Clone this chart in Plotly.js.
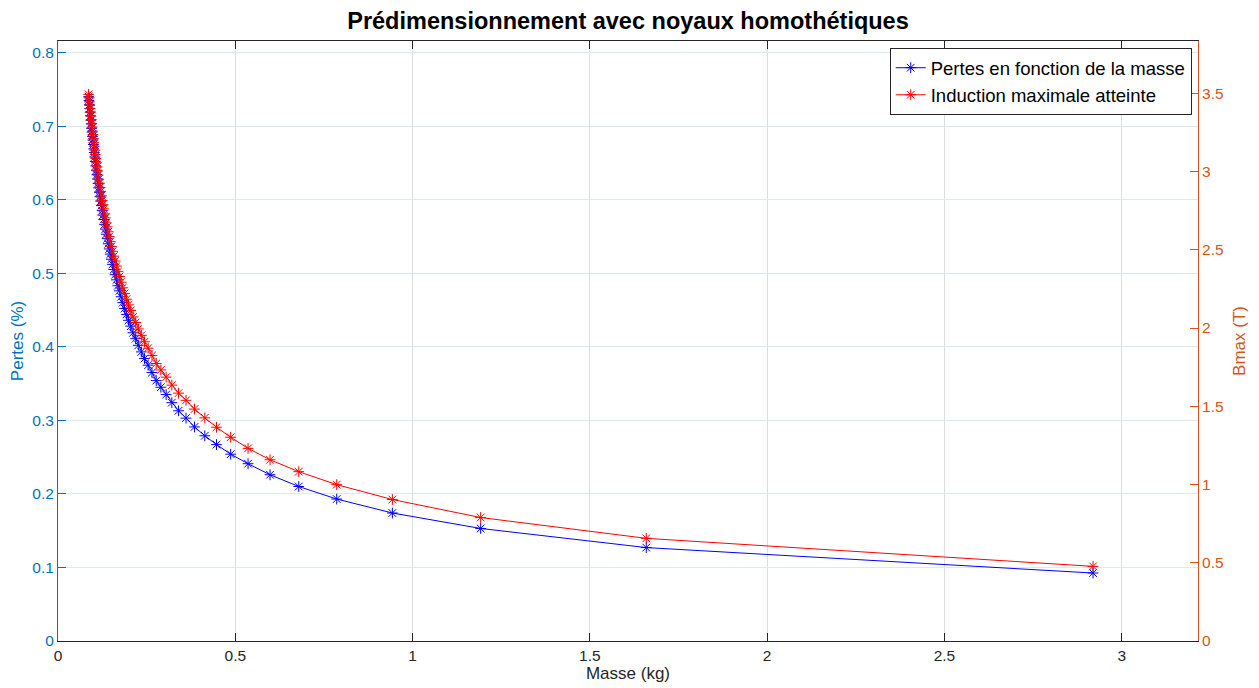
<!DOCTYPE html>
<html>
<head>
<meta charset="utf-8">
<script src="https://cdn.plot.ly/plotly-3.0.1.min.js"></script>
<style>
  html, body { margin: 0; padding: 0; background: #ffffff; }
  #chart { width: 1259px; height: 688px; }
</style>
</head>
<body>
<div id="chart"></div>
<script>
// Masse (kg)
const masse = [
  0.0865, 0.0874, 0.0884, 0.0894, 0.0904, 0.0915, 0.0926, 0.0937, 0.0948, 0.0960,
  0.0972, 0.0984, 0.0997, 0.1010, 0.1024, 0.1038, 0.1052, 0.1067, 0.1082, 0.1098,
  0.1114, 0.1131, 0.1149, 0.1167, 0.1185, 0.1204, 0.1224, 0.1245, 0.1266, 0.1289,
  0.1312, 0.1336, 0.1361, 0.1388, 0.1415, 0.1444, 0.1473, 0.1505, 0.1538, 0.1573,
  0.1610, 0.1649, 0.1689, 0.1732, 0.1778, 0.1826, 0.1877, 0.1932, 0.1989, 0.2051,
  0.2117, 0.219, 0.2265, 0.235, 0.244, 0.254, 0.265, 0.277, 0.290, 0.305,
  0.321, 0.340, 0.361, 0.385, 0.414, 0.447, 0.487, 0.536, 0.598, 0.679,
  0.786, 0.943, 1.192, 1.659, 2.919
];
// Pertes (%)
const pertes = [
  0.740, 0.735, 0.729, 0.724, 0.719, 0.714, 0.708, 0.703, 0.697, 0.692,
  0.686, 0.681, 0.675, 0.669, 0.664, 0.658, 0.652, 0.646, 0.640, 0.634,
  0.628, 0.622, 0.616, 0.610, 0.604, 0.598, 0.592, 0.585, 0.579, 0.573,
  0.566, 0.560, 0.553, 0.547, 0.540, 0.533, 0.526, 0.519, 0.512, 0.505,
  0.498, 0.491, 0.483, 0.476, 0.468, 0.460, 0.452, 0.444, 0.436, 0.428,
  0.419, 0.411, 0.402, 0.393, 0.384, 0.375, 0.365, 0.354, 0.345, 0.335,
  0.324, 0.313, 0.303, 0.291, 0.279, 0.267, 0.254, 0.241, 0.226, 0.210,
  0.193, 0.174, 0.153, 0.127, 0.0924
];
// Bmax (T)
const bmax = [
  3.493, 3.471, 3.445, 3.423, 3.402, 3.380, 3.354, 3.332, 3.306, 3.284,
  3.258, 3.236, 3.210, 3.184, 3.162, 3.136, 3.109, 3.083, 3.056, 3.030,
  3.004, 2.977, 2.951, 2.925, 2.898, 2.872, 2.845, 2.814, 2.788, 2.761,
  2.730, 2.704, 2.672, 2.646, 2.615, 2.584, 2.552, 2.521, 2.490, 2.459,
  2.428, 2.396, 2.360, 2.329, 2.293, 2.257, 2.221, 2.184, 2.148, 2.112,
  2.071, 2.035, 1.994, 1.953, 1.912, 1.871, 1.824, 1.773, 1.732, 1.686,
  1.635, 1.584, 1.538, 1.482, 1.426, 1.366, 1.302, 1.231, 1.158, 1.082,
  0.999, 0.904, 0.789, 0.656, 0.477
];

const xTicks = [0, 0.5, 1, 1.5, 2, 2.5, 3];
const yLeftTicks = [0, 0.1, 0.2, 0.3, 0.4, 0.5, 0.6, 0.7, 0.8];
const yRightTicks = [0, 0.5, 1, 1.5, 2, 2.5, 3, 3.5];

const FONT = '"Liberation Sans", Arial, Helvetica, sans-serif';
const AX = '#262626';
const BLUE_AX = '#0072BD';
const ORANGE_AX = '#D95319';

const traces = [
  {
    x: masse, y: pertes, yaxis: 'y',
    type: 'scatter', mode: 'lines+markers',
    name: 'Pertes en fonction de la masse',
    line: { color: '#0000FF', width: 1 },
    marker: { symbol: 'asterisk-open', size: 9, color: '#0000FF', line: { color: '#0000FF', width: 1 } }
  },
  {
    x: masse, y: bmax, yaxis: 'y2',
    type: 'scatter', mode: 'lines+markers',
    name: 'Induction maximale atteinte',
    line: { color: '#FF0000', width: 1 },
    marker: { symbol: 'asterisk-open', size: 9, color: '#FF0000', line: { color: '#FF0000', width: 1 } }
  }
];

const layout = {
  width: 1259, height: 688,
  paper_bgcolor: '#ffffff', plot_bgcolor: '#ffffff',
  margin: { l: 58, r: 61, t: 41, b: 47 },
  font: { family: FONT, size: 15, color: AX },
  title: {
    text: '<b>Prédimensionnement avec noyaux homothétiques</b>',
    font: { family: FONT, size: 23.5, color: '#000000' },
    x: 0.5, xanchor: 'center', xref: 'paper',
    y: 1 - 21 / 688, yref: 'container', yanchor: 'middle'
  },
  showlegend: true,
  legend: {
    x: 0.9945, xanchor: 'right', y: 0.988, yanchor: 'top',
    bgcolor: '#ffffff', bordercolor: AX, borderwidth: 1,
    font: { family: FONT, size: 18.5, color: '#000000' },
    tracegroupgap: 0, itemwidth: 30
  },
  xaxis: {
    range: [0, 3.215],
    tickvals: xTicks, ticktext: xTicks.map(String),
    ticks: 'inside', ticklen: 8, tickwidth: 1, tickcolor: AX,
    showline: true, linecolor: AX, linewidth: 1, mirror: 'ticks',
    showgrid: true, gridcolor: '#dedede', gridwidth: 1,
    zeroline: false,
    tickfont: { family: FONT, size: 15.5, color: AX },
    title: { text: 'Masse (kg)', font: { family: FONT, size: 17, color: AX }, standoff: 4 }
  },
  yaxis: {
    range: [0, 0.8157],
    tickvals: yLeftTicks, ticktext: yLeftTicks.map(String),
    ticks: 'inside', ticklen: 8, tickwidth: 1, tickcolor: BLUE_AX,
    showline: true, linecolor: BLUE_AX, linewidth: 1,
    showgrid: true, gridcolor: '#dbe9f4', gridwidth: 1,
    zeroline: false,
    tickfont: { family: FONT, size: 15.5, color: BLUE_AX },
    title: { text: 'Pertes (%)', font: { family: FONT, size: 17, color: BLUE_AX }, standoff: 4 }
  },
  yaxis2: {
    overlaying: 'y', side: 'right',
    range: [0, 3.834],
    tickvals: yRightTicks, ticktext: yRightTicks.map(String),
    ticks: 'inside', ticklen: 8, tickwidth: 1, tickcolor: ORANGE_AX,
    showline: true, linecolor: ORANGE_AX, linewidth: 1,
    showgrid: false, zeroline: false,
    tickfont: { family: FONT, size: 15.5, color: ORANGE_AX },
    title: { text: 'Bmax (T)', font: { family: FONT, size: 17, color: ORANGE_AX }, standoff: 10 }
  }
};

Plotly.newPlot('chart', traces, layout, { displayModeBar: false, staticPlot: true });
</script>
</body>
</html>
